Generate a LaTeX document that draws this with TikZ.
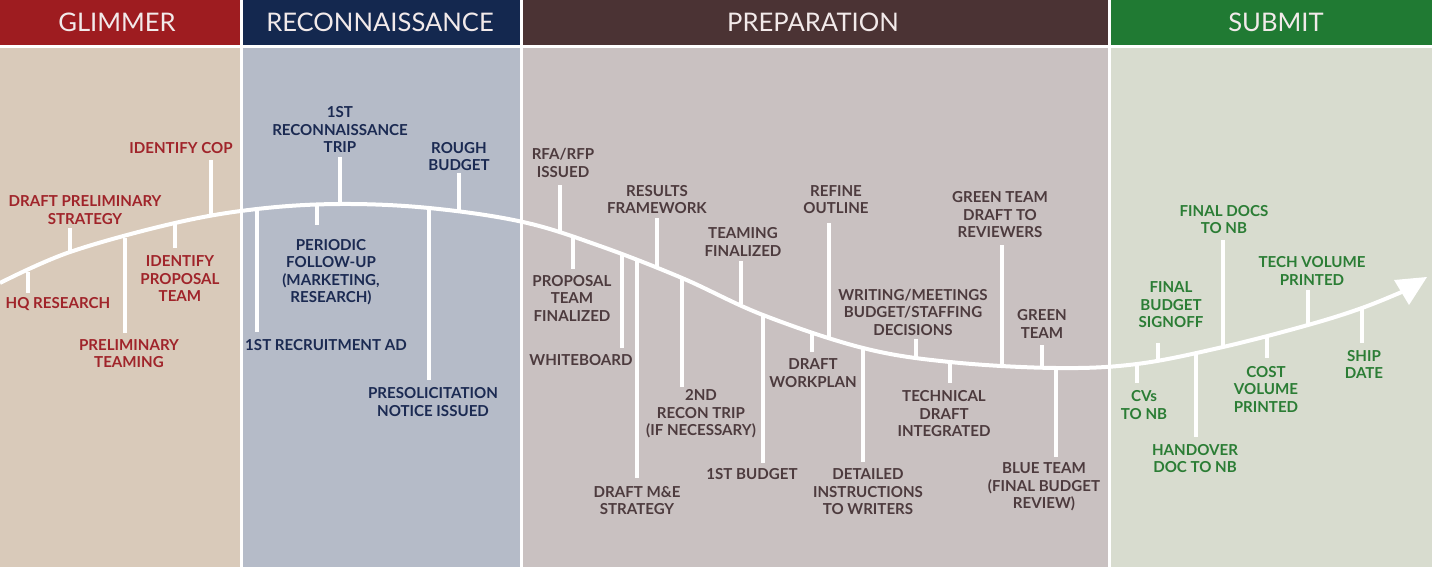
\documentclass[tikz,border=0pt]{standalone}
\usepackage{fontspec}
\setmainfont{Lato}
\definecolor{glh}{HTML}{9E1C20}
\definecolor{glb}{HTML}{D9CABA}
\definecolor{glt}{HTML}{A0242A}
\definecolor{rch}{HTML}{14284F}
\definecolor{rcb}{HTML}{B5BBC8}
\definecolor{rct}{HTML}{1B2A52}
\definecolor{prh}{HTML}{4B3334}
\definecolor{prb}{HTML}{C9C1C1}
\definecolor{prt}{HTML}{4D3B3E}
\definecolor{sbh}{HTML}{207A33}
\definecolor{sbb}{HTML}{D8DCCF}
\definecolor{sbt}{HTML}{2B7D35}
\definecolor{hdt}{HTML}{F2EAEA}
\newcommand\mstone[8]{%
  \node[lbl,text=#2] (#1) at (#3,#4) {#5};
  \coordinate (#1c) at (#6,#7);
  \coordinate (#1e) at (#6,#8);
  \draw[tickln] (#1c) -- (#1e);
}
\begin{document}
\begin{tikzpicture}[x=0.5pt,y=-0.5pt,
  lbl/.style={align=center,inner sep=0pt,font=\fontsize{7.55}{8.75}\selectfont\bfseries},
  hdr/.style={text=hdt,font=\fontsize{12.8}{15}\selectfont},
  tickln/.style={draw=white,line width=1.6pt},
  curveln/.style={draw=white,line width=2pt}]
\useasboundingbox (0,0) rectangle (1432,567);
\fill[white] (0,0) rectangle (1432,567);
% panels
\fill[glh] (0,0) rectangle (240,45);
\fill[rch] (243,0) rectangle (519.5,45);
\fill[prh] (522.5,0) rectangle (1108,45);
\fill[sbh] (1111,0) rectangle (1432,45);
\fill[glb] (0,48) rectangle (240,567);
\fill[rcb] (243,48) rectangle (519.5,567);
\fill[prb] (522.5,48) rectangle (1108,567);
\fill[sbb] (1111,48) rectangle (1432,567);
\node[hdr] (hg) at (117,22.5) {GLIMMER};
\node[hdr] (hr) at (380,22.5) {RECONNAISSANCE};
\node[hdr] (hp) at (813,22.5) {PREPARATION};
\node[hdr] (hs) at (1276,22.5) {SUBMIT};
% curve
\draw[curveln] plot[smooth,tension=0.6] coordinates {(0,283) (70,252) (175,223) (257,209) (340,204) (429,208) (523,222) (600,246) (682,278) (763,315) (863,348) (950,362) (1056,368) (1137,364) (1223,347) (1308,325) (1362,308) (1404,291)};
\coordinate (tipa) at (1427,277);
\coordinate (tipb) at (1394,280);
\coordinate (tipc) at (1409,305);
\fill[white] (tipa) -- (tipb) -- (tipc) -- cycle;
% glimmer
\mstone{hq}{glt}{58}{304}{HQ RESEARCH}{28}{272}{293}
\mstone{dps}{glt}{85}{210}{DRAFT PRELIMINARY\\STRATEGY}{70}{251}{228}
\mstone{pt}{glt}{129}{353.5}{PRELIMINARY\\TEAMING}{125}{238}{333}
\mstone{ipt}{glt}{180}{279}{IDENTIFY\\PROPOSAL\\TEAM}{175}{224}{248}
\mstone{cop}{glt}{181}{148}{IDENTIFY COP}{211}{216}{160}
% reconnaissance
\mstone{rec}{rct}{340}{129.5}{1ST\\RECONNAISSANCE\\TRIP}{340}{204}{157}
\mstone{rb}{rct}{459}{156.5}{ROUGH\\BUDGET}{459}{211}{173}
\mstone{pf}{rct}{331}{272}{PERIODIC\\FOLLOW-UP\\(MARKETING,\\RESEARCH)}{317}{206}{225}
\mstone{ra}{rct}{326}{345}{1ST RECRUITMENT AD}{257}{210}{332}
\mstone{pn}{rct}{433}{402}{PRESOLICITATION\\NOTICE ISSUED}{429}{209}{380}
% preparation
\mstone{rfa}{prt}{563}{163}{RFA/RFP\\ISSUED}{560}{233}{185}
\mstone{rf}{prt}{657}{199.5}{RESULTS\\FRAMEWORK}{657}{267}{218}
\mstone{tf}{prt}{743}{242}{TEAMING\\FINALIZED}{741}{304}{261}
\mstone{ptf}{prt}{572}{298}{PROPOSAL\\TEAM\\FINALIZED}{573}{238}{269}
\mstone{wb}{prt}{581}{360}{WHITEBOARD}{622}{255}{348}
\mstone{me}{prt}{637}{500.5}{DRAFT M\&E\\STRATEGY}{637}{261}{478}
\mstone{rt}{prt}{701}{414}{2ND\\RECON TRIP\\(IF NECESSARY)}{682}{278}{387}
\mstone{fb}{prt}{752}{474}{1ST BUDGET}{763}{315}{463}
\mstone{dw}{prt}{813}{373}{DRAFT\\WORKPLAN}{812}{331}{352}
\mstone{ro}{prt}{836}{199.5}{REFINE\\OUTLINE}{829}{337}{223}
\mstone{di}{prt}{868}{492}{DETAILED\\INSTRUCTIONS\\TO WRITERS}{863}{348}{462}
\mstone{wm}{prt}{913}{312}{WRITING/MEETINGS\\BUDGET/STAFFING\\DECISIONS}{916}{357}{339}
\mstone{td}{prt}{944}{414}{TECHNICAL\\DRAFT\\INTEGRATED}{950}{362}{383}
\mstone{gtd}{prt}{1000}{215}{GREEN TEAM\\DRAFT TO\\REVIEWERS}{1002}{366}{245}
\mstone{gt}{prt}{1042}{324}{GREEN\\TEAM}{1042}{368}{345}
\mstone{bt}{prt}{1044}{487}{BLUE TEAM\\(FINAL BUDGET\\REVIEW)}{1056}{368}{457}
% submit
\mstone{fd}{sbt}{1224}{219.5}{FINAL DOCS\\TO NB}{1223}{348}{240}
\mstone{tv}{sbt}{1312}{271}{TECH VOLUME\\PRINTED}{1308}{326}{290}
\mstone{fbs}{sbt}{1171}{305}{FINAL\\BUDGET\\SIGNOFF}{1158}{361}{343}
\mstone{cv}{sbt}{1144}{405}{CVs\\TO NB}{1137}{364}{383}
\mstone{ho}{sbt}{1195}{458.5}{HANDOVER\\DOC TO NB}{1196}{353}{437}
\mstone{cvp}{sbt}{1266}{389}{COST\\VOLUME\\PRINTED}{1267}{337}{358}
\mstone{sd}{sbt}{1364}{364.5}{SHIP\\DATE}{1362}{308}{343}
\end{tikzpicture}
\end{document}
